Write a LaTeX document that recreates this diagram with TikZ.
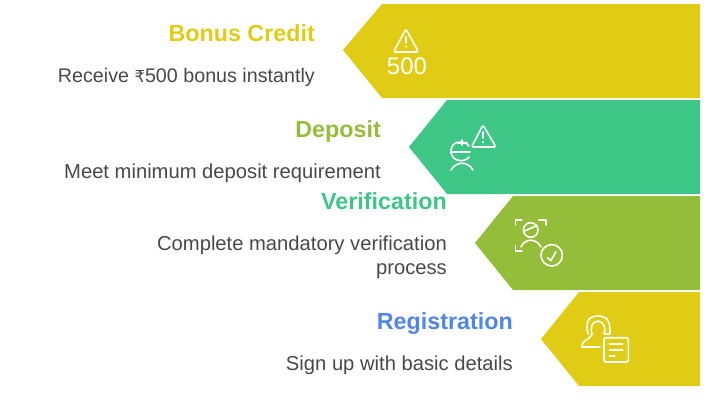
\documentclass[tikz,border=0pt]{standalone}
\usepackage{fontspec}
\setmainfont{Liberation Sans}
\newfontfamily\rupeefont{DejaVu Sans}
\definecolor{bandyellow}{HTML}{E0CC14}
\definecolor{bandgreen}{HTML}{3EC686}
\definecolor{bandolive}{HTML}{94BD3A}
\definecolor{titleblue}{HTML}{4F86E8}
\definecolor{bodygray}{HTML}{484848}
\tikzset{
	title/.style={anchor=base east, inner sep=0pt, font=\fontsize{23.3}{24}\selectfont\bfseries},
	body/.style={anchor=base east, inner sep=0pt, align=right, text=bodygray, font=\fontsize{20.2}{24}\selectfont},
	iconline/.style={draw=white, line width=1.6pt, line cap=round, line join=round}
}

\begin{document}
\begin{tikzpicture}[x=1pt,y=-1pt]
\useasboundingbox (0,0) rectangle (710,413);

\fill[bandyellow] (343,50) -- (382,4) -- (700,4) -- (700,98) -- (382,98) -- cycle;
\fill[bandgreen] (409,147) -- (447,100) -- (700,100) -- (700,194) -- (447,194) -- cycle;
\fill[bandolive] (475,243) -- (513,196) -- (700,196) -- (700,290) -- (513,290) -- cycle;
\fill[bandyellow] (541,339) -- (579,292) -- (700,292) -- (700,386) -- (579,386) -- cycle;

\node[title, text=bandyellow] (bonus) at (315,41) {Bonus Credit};
\node[body, font=\fontsize{19.7}{24}\selectfont] (bonustext) at (315,82) {Receive {\rupeefont\fontsize{16.5}{24}\selectfont ₹}500 bonus instantly};
\node[title, text=bandolive] (deposit) at (381,137) {Deposit};
\node[body] (deposittext) at (381,178) {Meet minimum deposit requirement};
\node[title, text=bandgreen] (verify) at (447,209) {Verification};
\node[body] (verifytext) at (447,250) {Complete mandatory verification};
\node[body] (verifytext2) at (447,274) {process};
\node[title, text=titleblue] (register) at (513,329) {Registration};
\node[body] (registertext) at (513,370) {Sign up with basic details};

% bonus icon
\draw[iconline, rounded corners=1.5pt] (406,29) -- (393.5,52) -- (418.5,52) -- cycle;
\draw[iconline] (406,37) -- (406,43);
\fill[white] (406,46.5) circle (1.1pt);
\node[inner sep=0pt, text=white, font=\fontsize{24}{24}\selectfont] (amount) at (407,66) {500};

% deposit icon
\draw[iconline, rounded corners=1.5pt] (483,125) -- (471.5,147) -- (496,147) -- cycle;
\draw[iconline] (483,132) -- (483,138);
\fill[white] (483,142) circle (1.1pt);
\draw[iconline] (469,146) .. controls (465,140) and (451,140) .. (451,151) .. controls (451,162) and (465,163) .. (469,157);
\draw[iconline] (450.5,152) -- (470,152);
\draw[iconline] (462,140) -- (462,145) (458,143) -- (467,143);
\draw[iconline] (451,170) .. controls (456,161) and (468,161) .. (473,170);

% verification icon
\draw[iconline] (515.5,225) -- (515.5,220) -- (522,220);
\draw[iconline] (539,220) -- (546,220) -- (546,225);
\draw[iconline] (515.5,246) -- (515.5,251) -- (522,251);
\draw[iconline] (530.7,230) circle (7.3);
\draw[iconline] (524.5,231) -- (537,225.5);
\draw[iconline] (521,247) .. controls (525,238) and (536,238) .. (541,247);
\draw[iconline] (551.7,255.3) circle (10.7);
\draw[iconline] (547.7,257.7) -- (550.7,260.7) -- (556,251.7);

% registration icon
\draw[iconline, rounded corners=1.5pt] (604,337.7) rectangle (628.3,362);
\draw[iconline] (609.5,344) -- (622.7,344) (609.5,350) -- (622.7,350) (609.5,355.7) -- (615,355.7);
\draw[iconline] (588,334) .. controls (586,325) and (586,316) .. (598,316) .. controls (610,316) and (610,325) .. (610,334) -- (605,334);
\draw[iconline] (592,334) .. controls (590,327) and (592,322) .. (598,321) .. controls (604,322) and (606,327) .. (604,334);
\draw[iconline] (592,334) .. controls (589,341) and (582,339) .. (582,347) -- (600,347);
\end{tikzpicture}
\end{document}
